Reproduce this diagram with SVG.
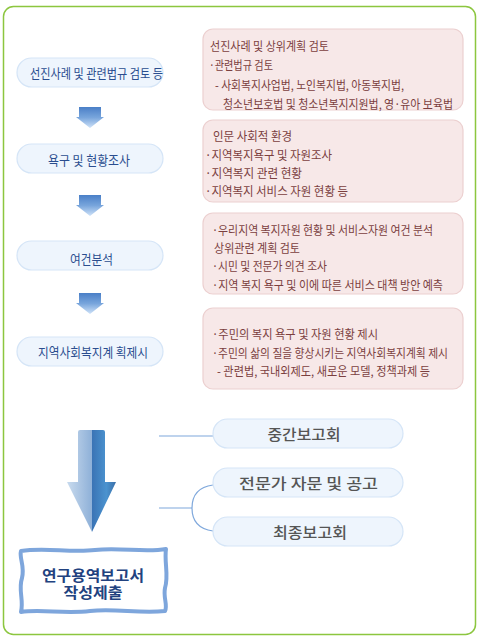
<svg xmlns="http://www.w3.org/2000/svg" width="480" height="642" viewBox="0 0 480 642">
<defs>
<linearGradient id="sg" x1="0" y1="0" x2="0" y2="1">
<stop offset="0" stop-color="#4a7fc7"/><stop offset="0.5" stop-color="#78a5dc"/><stop offset="1" stop-color="#cfe2f8"/>
</linearGradient>
<linearGradient id="bgl" x1="0" y1="0" x2="1" y2="0">
<stop offset="0" stop-color="#c9dbee"/><stop offset="1" stop-color="#8eb0d8"/>
</linearGradient>
<linearGradient id="bgr" x1="0" y1="0" x2="1" y2="0">
<stop offset="0" stop-color="#3a73b5"/><stop offset="0.6" stop-color="#4b93cf"/><stop offset="1" stop-color="#3a6fa8"/>
</linearGradient>
<style>
.pill{fill:#eef5fd;stroke:#d5e5f7;stroke-width:1.2}
.box{fill:#f7e8e8;stroke:#ecd0d0;stroke-width:1.2}
.lt{font-family:"Noto Sans CJK KR","Noto Sans",sans-serif;font-size:13px;fill:#2a4d8f}
.bt{font-family:"Noto Sans CJK KR","Noto Sans",sans-serif;font-size:12.5px;fill:#7b3f3f}
.rt{font-family:"Noto Sans CJK KR","Noto Sans",sans-serif;font-size:15px;fill:#555;font-weight:500;text-anchor:middle}
.ft{font-family:"Noto Sans CJK KR","Noto Sans",sans-serif;font-size:14.5px;fill:#22427f;font-weight:bold;text-anchor:middle}
.con{fill:none;stroke:#7fa8dc;stroke-width:1.2}
</style>
</defs>
<rect x="3.5" y="6.5" width="472" height="628" rx="10" fill="#fff" stroke="#8cc63f" stroke-width="1.5"/>

<g id="step1"><rect class="pill" x="17" y="58" width="146" height="29" rx="14.5"/><text class="lt" x="30" y="78" textLength="133" lengthAdjust="spacingAndGlyphs">선진사례 및 관련법규 검토 등</text></g>
<g id="step2"><rect class="pill" x="17" y="144" width="146" height="29" rx="14.5"/><text class="lt" x="48" y="165" textLength="82" lengthAdjust="spacingAndGlyphs">욕구 및 현황조사</text></g>
<g id="step3"><rect class="pill" x="17" y="241" width="146" height="29" rx="14.5"/><text class="lt" x="70" y="264" textLength="43" lengthAdjust="spacingAndGlyphs">여건분석</text></g>
<g id="step4"><rect class="pill" x="17" y="337" width="146" height="29" rx="14.5"/><text class="lt" x="38" y="357" textLength="110" lengthAdjust="spacingAndGlyphs">지역사회복지계 획제시</text></g>

<g id="arrows">
<path d="M79,107H101V117H104L90,128L76,117H79Z" fill="url(#sg)"/>
<path d="M79,195H101V205H104L90,216L76,205H79Z" fill="url(#sg)"/>
<path d="M79,293H101V303H104L90,314L76,303H79Z" fill="url(#sg)"/>
</g>

<g id="detail1"><rect class="box" x="203" y="29" width="260" height="81" rx="10"/>
<text class="bt" x="210" y="51" textLength="119" lengthAdjust="spacingAndGlyphs">선진사례 및 상위계획 검토</text>
<text class="bt" x="209" y="70" textLength="64" lengthAdjust="spacingAndGlyphs">·관련법규 검토</text>
<text class="bt" x="215" y="90" textLength="189" lengthAdjust="spacingAndGlyphs">- 사회복지사업법, 노인복지법, 아동복지법,</text>
<text class="bt" x="223" y="109" textLength="230" lengthAdjust="spacingAndGlyphs">청소년보호법 및 청소년복지지원법, 영·유아 보육법</text></g>

<g id="detail2"><rect class="box" x="203" y="120" width="260" height="82" rx="10"/>
<text class="bt" x="213" y="141" textLength="79" lengthAdjust="spacingAndGlyphs">인문 사회적 환경</text>
<text class="bt" x="205" y="160" textLength="127" lengthAdjust="spacingAndGlyphs">·지역복지욕구 및 자원조사</text>
<text class="bt" x="205" y="178" textLength="97" lengthAdjust="spacingAndGlyphs">·지역복지 관련 현황</text>
<text class="bt" x="205" y="196" textLength="143" lengthAdjust="spacingAndGlyphs">·지역복지 서비스 자원 현황 등</text></g>

<g id="detail3"><rect class="box" x="203" y="213" width="260" height="81" rx="10"/>
<text class="bt" x="212" y="235" textLength="221" lengthAdjust="spacingAndGlyphs">·우리지역 복지자원 현황 및 서비스자원 여건 분석</text>
<text class="bt" x="214" y="253" textLength="86" lengthAdjust="spacingAndGlyphs">상위관련 계획 검토</text>
<text class="bt" x="212" y="271" textLength="115" lengthAdjust="spacingAndGlyphs">·시민 및 전문가 의견 조사</text>
<text class="bt" x="212" y="290" textLength="231" lengthAdjust="spacingAndGlyphs">·지역 복지 욕구 및 이에 따른 서비스 대책 방안 예측</text></g>

<g id="detail4"><rect class="box" x="203" y="308" width="260" height="81" rx="10"/>
<text class="bt" x="212" y="339" textLength="166" lengthAdjust="spacingAndGlyphs">·주민의 복지 욕구 및 자원 현황 제시</text>
<text class="bt" x="212" y="358" textLength="236" lengthAdjust="spacingAndGlyphs">·주민의 삶의 질을 향상시키는 지역사회복지계획 제시</text>
<text class="bt" x="217" y="376" textLength="213" lengthAdjust="spacingAndGlyphs">- 관련법, 국내외제도, 새로운 모델, 정책과제 등</text></g>

<g id="bigArrow">
<path d="M80,430H92V532L67,482H78V432Q78,430 80,430Z" fill="url(#bgl)"/>
<path d="M92,430H103Q105,430 105,432V482H116L92,532Z" fill="url(#bgr)"/>
</g>

<g id="connectors">
<path class="con" d="M159,436H213"/>
<path class="con" d="M159,508H192"/>
<path class="con" d="M213,485C198,487 192,496 192,508C192,520 198,529 213,531"/>
</g>

<g id="meeting1"><rect class="pill" x="213" y="419" width="190" height="29" rx="14.5"/><text class="rt" x="304" y="440" textLength="73" lengthAdjust="spacingAndGlyphs">중간보고회</text></g>
<g id="meeting2"><rect class="pill" x="213" y="468" width="190" height="29" rx="14.5"/><text class="rt" x="308.5" y="489" textLength="139" lengthAdjust="spacingAndGlyphs">전문가 자문 및 공고</text></g>
<g id="meeting3"><rect class="pill" x="213" y="517" width="190" height="29" rx="14.5"/><text class="rt" x="310" y="538" textLength="74" lengthAdjust="spacingAndGlyphs">최종보고회</text></g>

<g id="final">
<path d="M21,551C45,547 70,553 95,550C120,547 145,553 166,549C164,562 169,575 165,588C163,598 168,605 165,611C140,614 115,608 90,611C65,614 40,609 21,612C24,600 18,590 22,578C25,566 19,558 21,551Z" fill="#fff" stroke="#7ea6dc" stroke-width="4" stroke-linejoin="round"/>
<text class="ft" x="93" y="581" textLength="102" lengthAdjust="spacingAndGlyphs">연구용역보고서</text>
<text class="ft" x="93" y="598" textLength="59" lengthAdjust="spacingAndGlyphs">작성제출</text>
</g>
</svg>
